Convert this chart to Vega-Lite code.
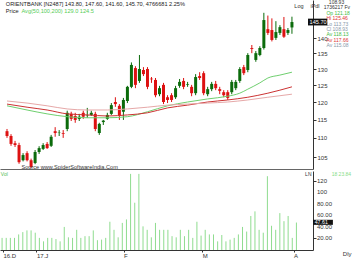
{
  "$schema": "https://vega.github.io/schema/vega-lite/v6.json",
  "padding": 0,
  "spacing": 0,
  "background": "white",
  "config": {"view": {"stroke": null}, "font": "Liberation Sans", "concat": {"spacing": 0}, "axis": {"labelOverlap": false}},
  "datasets": {
    "candles": [
      {"i":0,"o":111.8,"h":112.4,"l":110.0,"c":110.5,"v":21},
      {"i":1,"o":110.5,"h":111.0,"l":107.9,"c":108.4,"v":21},
      {"i":2,"o":108.6,"h":109.2,"l":107.6,"c":108.1,"v":21},
      {"i":3,"o":108.1,"h":108.7,"l":103.3,"c":103.7,"v":21},
      {"i":4,"o":104.2,"h":106.0,"l":103.9,"c":105.5,"v":27},
      {"i":5,"o":106.0,"h":106.5,"l":103.9,"c":104.2,"v":31},
      {"i":6,"o":104.2,"h":104.6,"l":102.2,"c":102.5,"v":34},
      {"i":7,"o":103.5,"h":106.8,"l":103.2,"c":106.3,"v":34},
      {"i":8,"o":106.3,"h":107.8,"l":105.8,"c":107.3,"v":30},
      {"i":9,"o":107.1,"h":108.6,"l":106.8,"c":108.1,"v":21},
      {"i":10,"o":108.4,"h":108.9,"l":107.1,"c":107.3,"v":15},
      {"i":11,"o":107.9,"h":110.8,"l":107.6,"c":110.3,"v":21},
      {"i":12,"o":111.8,"h":112.9,"l":110.3,"c":111.3,"v":21},
      {"i":13,"o":111.3,"h":112.1,"l":110.5,"c":111.4,"v":19},
      {"i":14,"o":111.3,"h":112.1,"l":110.0,"c":111.1,"v":15},
      {"i":15,"o":112.4,"h":117.5,"l":111.8,"c":116.9,"v":40},
      {"i":16,"o":116.6,"h":117.2,"l":114.6,"c":115.2,"v":22},
      {"i":17,"o":116.0,"h":116.9,"l":114.1,"c":114.9,"v":21},
      {"i":18,"o":115.2,"h":116.6,"l":114.6,"c":115.8,"v":35},
      {"i":19,"o":116.9,"h":117.5,"l":115.2,"c":115.8,"v":21},
      {"i":20,"o":116.0,"h":118.3,"l":115.5,"c":116.1,"v":24},
      {"i":21,"o":116.3,"h":117.5,"l":116.0,"c":116.9,"v":24},
      {"i":22,"o":116.6,"h":117.2,"l":111.8,"c":112.4,"v":34},
      {"i":23,"o":111.3,"h":114.1,"l":110.8,"c":113.8,"v":17},
      {"i":24,"o":114.3,"h":114.9,"l":113.5,"c":114.7,"v":18},
      {"i":25,"o":115.2,"h":116.9,"l":114.9,"c":116.3,"v":21},
      {"i":26,"o":116.6,"h":119.7,"l":116.3,"c":119.1,"v":49},
      {"i":27,"o":120.0,"h":121.4,"l":118.6,"c":119.4,"v":35},
      {"i":28,"o":118.9,"h":119.4,"l":114.9,"c":116.0,"v":22},
      {"i":29,"o":117.2,"h":121.2,"l":114.9,"c":120.6,"v":47},
      {"i":30,"o":120.3,"h":124.8,"l":119.7,"c":124.5,"v":53},
      {"i":31,"o":124.5,"h":132.1,"l":124.1,"c":131.3,"v":132},
      {"i":32,"o":130.3,"h":130.9,"l":124.1,"c":125.1,"v":82},
      {"i":33,"o":126.3,"h":134.5,"l":125.7,"c":130.0,"v":132},
      {"i":34,"o":129.7,"h":130.6,"l":127.8,"c":128.4,"v":41},
      {"i":35,"o":130.0,"h":130.6,"l":123.8,"c":124.5,"v":35},
      {"i":36,"o":127.0,"h":127.5,"l":125.7,"c":126.8,"v":22},
      {"i":37,"o":126.6,"h":127.2,"l":121.4,"c":122.0,"v":47},
      {"i":38,"o":122.3,"h":124.8,"l":121.7,"c":124.1,"v":35},
      {"i":39,"o":125.1,"h":125.7,"l":119.4,"c":120.0,"v":35},
      {"i":40,"o":121.4,"h":122.0,"l":119.7,"c":120.6,"v":35},
      {"i":41,"o":122.0,"h":122.6,"l":120.0,"c":120.6,"v":24},
      {"i":42,"o":121.4,"h":124.8,"l":120.9,"c":124.1,"v":22},
      {"i":43,"o":124.8,"h":126.9,"l":124.2,"c":126.0,"v":35},
      {"i":44,"o":126.3,"h":127.2,"l":123.8,"c":124.5,"v":24},
      {"i":45,"o":125.1,"h":126.0,"l":124.5,"c":125.3,"v":35},
      {"i":46,"o":124.5,"h":125.1,"l":121.7,"c":122.6,"v":21},
      {"i":47,"o":122.6,"h":128.4,"l":122.0,"c":127.5,"v":49},
      {"i":48,"o":127.8,"h":129.0,"l":126.6,"c":127.2,"v":25},
      {"i":49,"o":128.7,"h":129.3,"l":122.0,"c":122.6,"v":35},
      {"i":50,"o":122.3,"h":124.5,"l":121.7,"c":123.8,"v":27},
      {"i":51,"o":123.8,"h":126.0,"l":123.2,"c":125.4,"v":27},
      {"i":52,"o":125.4,"h":126.3,"l":123.5,"c":124.1,"v":15},
      {"i":53,"o":123.8,"h":124.5,"l":122.3,"c":123.3,"v":26},
      {"i":54,"o":122.9,"h":123.5,"l":121.4,"c":122.0,"v":15},
      {"i":55,"o":122.9,"h":123.5,"l":120.6,"c":121.2,"v":18},
      {"i":56,"o":122.9,"h":126.6,"l":122.3,"c":126.0,"v":21},
      {"i":57,"o":124.1,"h":126.6,"l":123.5,"c":126.0,"v":27},
      {"i":58,"o":126.3,"h":130.6,"l":125.7,"c":130.0,"v":40},
      {"i":59,"o":130.6,"h":131.3,"l":128.1,"c":128.7,"v":32},
      {"i":60,"o":129.7,"h":135.1,"l":129.0,"c":134.5,"v":59},
      {"i":61,"o":136.8,"h":137.8,"l":135.1,"c":136.5,"v":67},
      {"i":62,"o":132.9,"h":135.8,"l":132.3,"c":135.1,"v":35},
      {"i":63,"o":134.5,"h":137.4,"l":134.1,"c":136.8,"v":30},
      {"i":64,"o":136.8,"h":149.0,"l":136.3,"c":146.4,"v":128},
      {"i":65,"o":143.2,"h":148.0,"l":141.2,"c":141.9,"v":42},
      {"i":66,"o":142.9,"h":147.0,"l":139.0,"c":139.5,"v":35},
      {"i":67,"o":140.2,"h":146.0,"l":139.5,"c":142.2,"v":64},
      {"i":68,"o":141.9,"h":144.6,"l":141.2,"c":143.9,"v":50},
      {"i":69,"o":143.2,"h":147.5,"l":140.2,"c":140.6,"v":59},
      {"i":70,"o":141.9,"h":143.6,"l":141.2,"c":142.9,"v":21},
      {"i":71,"o":143.8,"h":147.6,"l":141.6,"c":145.7,"v":47.61}
    ],
    "ma": [
      {"k":"a","i":0,"v":118.9},{"k":"a","i":5,"v":117.7},{"k":"a","i":10,"v":116.6},{"k":"a","i":15,"v":115.8},{"k":"a","i":20,"v":115.5},{"k":"a","i":25,"v":115.5},{"k":"a","i":30,"v":115.8},{"k":"a","i":35,"v":117.2},{"k":"a","i":40,"v":118.9},{"k":"a","i":45,"v":120.0},{"k":"a","i":50,"v":120.9},{"k":"a","i":55,"v":121.7},{"k":"a","i":58,"v":122.6},{"k":"a","i":60,"v":123.8},{"k":"a","i":63,"v":125.7},{"k":"a","i":65,"v":127.2},{"k":"a","i":68,"v":128.1},{"k":"a","i":71,"v":129.0},
      {"k":"b","i":0,"v":119.4},{"k":"b","i":5,"v":118.5},{"k":"b","i":10,"v":117.7},{"k":"b","i":15,"v":116.6},{"k":"b","i":20,"v":116.3},{"k":"b","i":25,"v":116.0},{"k":"b","i":30,"v":116.3},{"k":"b","i":35,"v":116.9},{"k":"b","i":40,"v":118.3},{"k":"b","i":45,"v":119.1},{"k":"b","i":50,"v":120.0},{"k":"b","i":55,"v":120.6},{"k":"b","i":60,"v":121.4},{"k":"b","i":65,"v":122.6},{"k":"b","i":71,"v":124.5},
      {"k":"c","i":0,"v":120.3},{"k":"c","i":5,"v":119.7},{"k":"c","i":10,"v":118.9},{"k":"c","i":15,"v":118.0},{"k":"c","i":20,"v":117.7},{"k":"c","i":25,"v":117.7},{"k":"c","i":30,"v":118.0},{"k":"c","i":35,"v":118.5},{"k":"c","i":40,"v":119.1},{"k":"c","i":45,"v":119.4},{"k":"c","i":50,"v":119.7},{"k":"c","i":55,"v":120.0},{"k":"c","i":60,"v":120.6},{"k":"c","i":65,"v":121.4},{"k":"c","i":71,"v":122.3}
    ],
    "volticks": [
      {"v":20,"t":"20.00"},{"v":40,"t":"40.00"},{"v":60,"t":"60.00"},{"v":80,"t":"80.00"},{"v":100,"t":"100"},{"v":120,"t":"120"}
    ]
  },
  "vconcat": [
    {
      "width": 313,
      "height": 169,
      "layer": [
        {
          "data": {"name": "candles"},
          "mark": {"type": "rule", "strokeWidth": 1},
          "encoding": {
            "x": {"field": "i", "type": "quantitative", "scale": {"domain": [-0.5, 75], "nice": false, "zero": false},
                  "axis": {"labels": false, "ticks": false, "grid": false, "title": null, "domainColor": "#666", "domainWidth": 1}},
            "y": {"field": "l", "type": "quantitative", "scale": {"type": "log", "domain": [102.0, 153.7], "nice": false, "zero": false},
                  "axis": {"orient": "right", "values": [105, 110, 115, 120, 125, 130, 135, 140], "format": "d", "title": null, "grid": false,
                           "tickSize": 3, "tickColor": "#333", "domainColor": "#333", "labelFontSize": 6, "labelColor": "#333", "labelPadding": 1, "labelOverlap": false}},
            "y2": {"field": "h"},
            "color": {"condition": {"test": "datum.c >= datum.o", "value": "#0b6b0b"}, "value": "#dd1111"}
          }
        },
        {
          "data": {"name": "candles"},
          "mark": {"type": "bar", "size": 3},
          "encoding": {
            "x": {"field": "i", "type": "quantitative"},
            "y": {"field": "o", "type": "quantitative"},
            "y2": {"field": "c"},
            "color": {"condition": {"test": "datum.c >= datum.o", "value": "#0b6b0b"}, "value": "#dd1111"}
          }
        },
        {
          "data": {"name": "ma"},
          "mark": {"type": "line", "strokeWidth": 1, "interpolate": "monotone"},
          "encoding": {
            "x": {"field": "i", "type": "quantitative"},
            "y": {"field": "v", "type": "quantitative"},
            "color": {"field": "k", "type": "nominal", "scale": {"domain": ["a", "b", "c"], "range": ["#6fcf6f", "#cc3333", "#e6a8a8"]}, "legend": null}
          }
        },
        {
          "data": {"values": [{}]},
          "mark": {"type": "text", "align": "left", "baseline": "middle", "fontSize": 5.6, "color": "#222"},
          "encoding": {"x": {"datum": -0.3}, "y": {"datum": 152.2}, "text": {"value": "ORIENTBANK [N2487] 143.80, 147.60, 141.60, 145.70, 4766681 2.25%"}}
        },
        {
          "data": {"values": [{}]},
          "mark": {"type": "text", "align": "left", "baseline": "middle", "fontSize": 5.6, "color": "#222"},
          "encoding": {"x": {"datum": -0.3}, "y": {"datum": 149.6}, "text": {"value": "Price"}}
        },
        {
          "data": {"values": [{}]},
          "mark": {"type": "text", "align": "left", "baseline": "middle", "fontSize": 5.6, "color": "#55cc55"},
          "encoding": {"x": {"datum": 3.6}, "y": {"datum": 149.6}, "text": {"value": "Avg(50,100,200) 129.0 124.5"}}
        },
        {
          "data": {"values": [{}]},
          "mark": {"type": "text", "align": "left", "baseline": "middle", "fontSize": 5.6, "color": "#333"},
          "encoding": {"x": {"datum": 3.6}, "y": {"datum": 102.6}, "text": {"value": "Source  www.SpiderSoftwareIndia.Com"}}
        },
        {
          "data": {"values": [{}]},
          "mark": {"type": "text", "align": "left", "baseline": "middle", "fontSize": 5.5, "color": "#333"},
          "encoding": {"x": {"datum": 71.6}, "y": {"datum": 151.6}, "text": {"value": "Log"}}
        },
        {
          "data": {"values": [{}]},
          "mark": {"type": "text", "align": "left", "baseline": "middle", "fontSize": 5.5, "color": "#333"},
          "encoding": {"x": {"datum": 75.6}, "y": {"datum": 151.6}, "text": {"value": "iPdl"}}
        },
        {
          "data": {"values": [{}]},
          "mark": {"type": "text", "align": "left", "baseline": "middle", "fontSize": 5, "color": "#333"},
          "encoding": {"x": {"datum": 80.2}, "y": {"datum": 152.9}, "text": {"value": "108.93"}}
        },
        {
          "data": {"values": [{}]},
          "mark": {"type": "text", "align": "left", "baseline": "middle", "fontSize": 5, "color": "#333"},
          "encoding": {"x": {"datum": 78.9}, "y": {"datum": 151.1}, "text": {"value": "1736217 Fv"}}
        },
        {
          "data": {"values": [{}]},
          "mark": {"type": "text", "align": "left", "baseline": "middle", "fontSize": 5, "color": "#44bb44"},
          "encoding": {"x": {"datum": 79.6}, "y": {"datum": 148.9}, "text": {"value": "Op  121.18"}}
        },
        {
          "data": {"values": [{}]},
          "mark": {"type": "text", "align": "left", "baseline": "middle", "fontSize": 5, "color": "#dd3333"},
          "encoding": {"x": {"datum": 79.6}, "y": {"datum": 147.0}, "text": {"value": "Hi  125.46"}}
        },
        {
          "data": {"values": [{}]},
          "mark": {"type": "text", "align": "left", "baseline": "middle", "fontSize": 5, "color": "#8899aa"},
          "encoding": {"x": {"datum": 79.6}, "y": {"datum": 145.1}, "text": {"value": "Lo  113.73"}}
        },
        {
          "data": {"values": [{}]},
          "mark": {"type": "text", "align": "left", "baseline": "middle", "fontSize": 5, "color": "#8899aa"},
          "encoding": {"x": {"datum": 79.6}, "y": {"datum": 143.3}, "text": {"value": "Cl  108.93"}}
        },
        {
          "data": {"values": [{}]},
          "mark": {"type": "text", "align": "left", "baseline": "middle", "fontSize": 5, "color": "#44bb44"},
          "encoding": {"x": {"datum": 79.6}, "y": {"datum": 141.4}, "text": {"value": "Av  118.13"}}
        },
        {
          "data": {"values": [{}]},
          "mark": {"type": "text", "align": "left", "baseline": "middle", "fontSize": 5, "color": "#dd3333"},
          "encoding": {"x": {"datum": 79.6}, "y": {"datum": 139.6}, "text": {"value": "Av  117.66"}}
        },
        {
          "data": {"values": [{}]},
          "mark": {"type": "text", "align": "left", "baseline": "middle", "fontSize": 5, "color": "#8899aa"},
          "encoding": {"x": {"datum": 79.6}, "y": {"datum": 137.9}, "text": {"value": "Av  115.08"}}
        },
        {
          "data": {"values": [{}]},
          "mark": {"type": "rect", "color": "#111"},
          "encoding": {"x": {"datum": 75}, "x2": {"datum": 79.8}, "y": {"datum": 144.5}, "y2": {"datum": 146.9}}
        },
        {
          "data": {"values": [{}]},
          "mark": {"type": "text", "align": "left", "baseline": "middle", "fontSize": 5.6, "color": "white"},
          "encoding": {"x": {"datum": 75.4}, "y": {"datum": 145.7}, "text": {"value": "145.70"}}
        }
      ]
    },
    {
      "width": 313,
      "height": 79,
      "layer": [
        {
          "data": {"name": "candles"},
          "mark": {"type": "rule", "color": "#8fdc8f", "strokeWidth": 1},
          "encoding": {
            "x": {"field": "i", "type": "quantitative", "scale": {"domain": [-0.5, 75], "nice": false, "zero": false},
                  "axis": {"values": [0.2, 8.3, 29.3, 48.3, 70.3],
                           "labelExpr": "datum.value < 1 ? '16.D' : datum.value < 10 ? '17.J' : datum.value < 30 ? 'F' : datum.value < 50 ? 'M' : 'A'",
                           "labelAlign": "left", "labelFlush": false, "labelOverlap": false, "labelFontSize": 6, "labelColor": "#333",
                           "tickSize": 2, "labelPadding": 0, "domainColor": "#333", "tickColor": "#333", "title": null, "grid": false}},
            "y": {"field": "v", "type": "quantitative", "scale": {"domain": [0, 137], "nice": false, "zero": true},
                  "axis": {"orient": "right", "values": [20, 40, 60, 80, 100, 120], "labels": false,
                           "title": null, "grid": false, "tickSize": 3, "tickColor": "#333", "domainColor": "#333"}},
            "y2": {"datum": 0}
          }
        },
        {
          "data": {"name": "volticks"},
          "mark": {"type": "text", "align": "left", "baseline": "middle", "fontSize": 6, "color": "#333"},
          "encoding": {"x": {"datum": 75.96}, "y": {"field": "v", "type": "quantitative"}, "text": {"field": "t"}}
        },
        {
          "data": {"values": [{}]},
          "mark": {"type": "rect", "color": "#111"},
          "encoding": {"x": {"datum": 75}, "x2": {"datum": 79.8}, "y": {"datum": 43.6}, "y2": {"datum": 52.4}}
        },
        {
          "data": {"values": [{}]},
          "mark": {"type": "text", "align": "left", "baseline": "middle", "fontSize": 5.3, "color": "white"},
          "encoding": {"x": {"datum": 75.4}, "y": {"datum": 48.2}, "text": {"value": "47.61"}}
        },
        {
          "data": {"values": [{}]},
          "mark": {"type": "text", "align": "left", "baseline": "middle", "fontSize": 5, "color": "#55bb55"},
          "encoding": {"x": {"datum": -0.3}, "y": {"datum": 131}, "text": {"value": "Vol"}}
        },
        {
          "data": {"values": [{}]},
          "mark": {"type": "text", "align": "left", "baseline": "middle", "fontSize": 5, "color": "#333"},
          "encoding": {"x": {"datum": 73.1}, "y": {"datum": 131}, "text": {"value": "LN"}}
        },
        {
          "data": {"values": [{}]},
          "mark": {"type": "text", "align": "left", "baseline": "middle", "fontSize": 5, "color": "#88dd88"},
          "encoding": {"x": {"datum": 79.5}, "y": {"datum": 131}, "text": {"value": "18     23.84"}}
        },
        {
          "data": {"values": [{}]},
          "mark": {"type": "text", "align": "left", "baseline": "top", "fontSize": 6, "color": "#333", "dy": 1},
          "encoding": {"x": {"datum": 82.2}, "y": {"datum": 0}, "text": {"value": "Dly"}}
        }
      ]
    }
  ]
}
